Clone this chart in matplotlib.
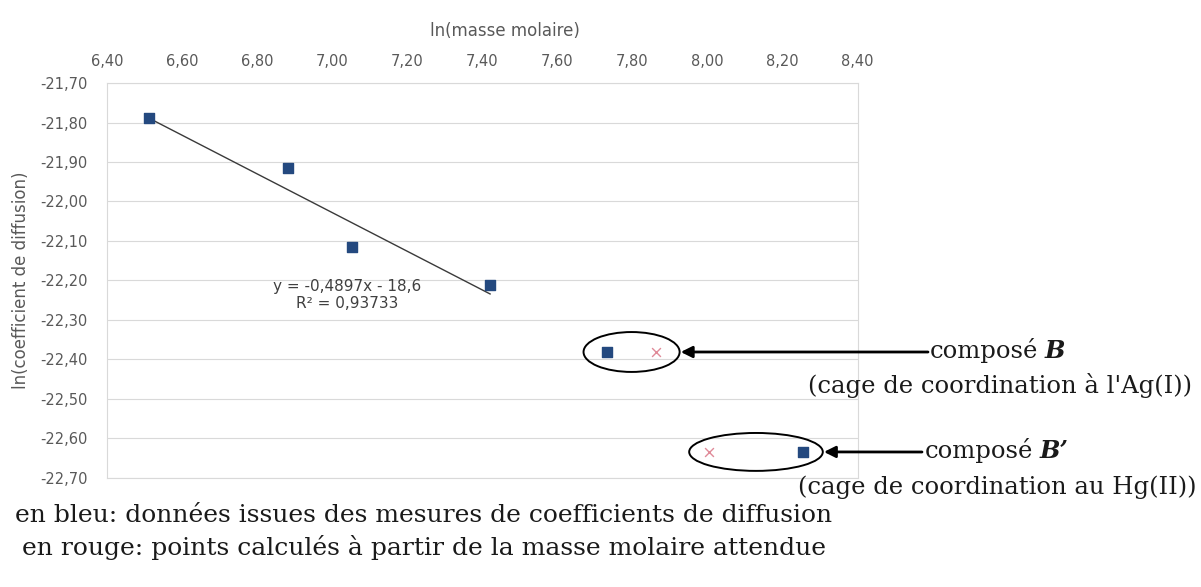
import matplotlib.pyplot as plt
from matplotlib.patches import Ellipse
from matplotlib.ticker import FuncFormatter, MultipleLocator

# ln(masse molaire) et ln(coefficient de diffusion) mesurés
ln_masse = [6.513, 6.883, 7.052, 7.421]
ln_diff = [-21.789, -21.915, -22.115, -22.211]

# composés B et B' : mesuré (bleu) et calculé (rouge)
b_mesure = (7.732, -22.381)
b_calcule = (7.864, -22.381)
bp_mesure = (8.255, -22.634)
bp_calcule = (8.004, -22.634)

# droite de tendance
pente = -0.4897
ordonnee = -18.6
r2 = 0.93733

gris = "#595959"
bleu = "#24497f"
rouge = "#e08a98"

plt.rcParams["font.family"] = "DejaVu Sans"

fig = plt.figure(figsize=(12.01, 5.87), dpi=100)
ax = fig.add_axes([0.089, 0.1857, 0.625, 0.6729])

# points mesurés
ax.scatter(ln_masse, ln_diff, marker="s", s=60, color=bleu, zorder=3)
ax.scatter([b_mesure[0], bp_mesure[0]], [b_mesure[1], bp_mesure[1]],
           marker="s", s=48, color=bleu, zorder=3)
# points calculés
ax.scatter([b_calcule[0], bp_calcule[0]], [b_calcule[1], bp_calcule[1]],
           marker="x", s=40, color=rouge, linewidths=1.0, zorder=3)

# droite de tendance sur l'étendue des mesures
xs = [min(ln_masse), max(ln_masse)]
ys = [pente * x + ordonnee for x in xs]
ax.plot(xs, ys, color="#3a3a3a", linewidth=1.0, zorder=2)

eq = f"y = {pente:.4f}x - {abs(ordonnee):.1f}\nR² = {r2:.5f}".replace(".", ",")
ax.text(7.039, -22.237, eq, ha="center", va="center", fontsize=11,
        color="#404040", multialignment="center", linespacing=1.15)

ax.set_xlim(6.4, 8.4)
ax.set_ylim(-22.7, -21.7)
ax.xaxis.set_major_locator(MultipleLocator(0.2))
ax.yaxis.set_major_locator(MultipleLocator(0.1))
virgule = FuncFormatter(lambda v, p: f"{v:.2f}".replace(".", ","))
ax.xaxis.set_major_formatter(virgule)
ax.yaxis.set_major_formatter(virgule)
ax.xaxis.tick_top()
ax.xaxis.set_label_position("top")
ax.tick_params(axis="both", length=0, labelsize=10.5, labelcolor=gris)
ax.tick_params(axis="x", pad=10)
ax.tick_params(axis="y", pad=14)
ax.grid(True, axis="y", color="#d9d9d9", linewidth=0.8)
for s in ax.spines.values():
    s.set_color("#d9d9d9")
    s.set_linewidth(0.8)

ax.set_xlabel("ln(masse molaire)", fontsize=12, color=gris)
ax.xaxis.set_label_coords(0.53, 1.12)
ax.set_ylabel("ln(coefficient de diffusion)", fontsize=12, color=gris)
ax.yaxis.set_label_coords(-0.1025, 0.5)

# entourer les composés B et B'
cx_b = (b_mesure[0] + b_calcule[0]) / 2
cx_bp = (bp_mesure[0] + bp_calcule[0]) / 2
ax.add_patch(Ellipse((cx_b, b_mesure[1]), 0.256, 0.101, fill=False,
                     edgecolor="black", linewidth=1.4, zorder=4))
ax.add_patch(Ellipse((cx_bp, bp_mesure[1]), 0.356, 0.096, fill=False,
                     edgecolor="black", linewidth=1.4, zorder=4))

fleche = dict(arrowstyle="-|>", color="black", lw=2.0, mutation_scale=17,
              shrinkA=0, shrinkB=0)
ax.annotate("", xy=(cx_b + 0.131, b_mesure[1]), xycoords="data",
            xytext=(928, 587 - 352), textcoords="figure pixels",
            arrowprops=fleche, annotation_clip=False)
ax.annotate("", xy=(cx_bp + 0.181, bp_mesure[1]), xycoords="data",
            xytext=(922, 587 - 452), textcoords="figure pixels",
            arrowprops=fleche, annotation_clip=False)

serif = dict(family="DejaVu Serif", fontsize=17.5, color="#1a1a1a")
renderer = fig.canvas.get_renderer()


def compose(x_px, y_px, lettre):
    # "composé" puis la lettre en gras italique juste après
    t = fig.text(x_px / 1201, 1 - y_px / 587, "composé", ha="left",
                 va="baseline", **serif)
    bb = t.get_window_extent(renderer)
    fig.text((bb.x1 + 6) / 1201, 1 - y_px / 587, lettre, ha="left",
             va="baseline", fontweight="bold", style="italic", **serif)


compose(930, 358, "B")
compose(925, 458, "B’")
fig.text(1192 / 1201, 1 - 385 / 587, "(cage de coordination à l'Ag(I))",
         ha="right", va="center", **serif)
fig.text(1196 / 1201, 1 - 487 / 587, "(cage de coordination au Hg(II))",
         ha="right", va="center", **serif)

bas = dict(serif, fontsize=18)
fig.text(424 / 1201, 1 - 515 / 587,
         "en bleu: données issues des mesures de coefficients de diffusion",
         ha="center", va="center", **bas)
fig.text(424 / 1201, 1 - 548 / 587,
         "en rouge: points calculés à partir de la masse molaire attendue",
         ha="center", va="center", **bas)

fig.savefig("out.png", dpi=100, facecolor="white")
